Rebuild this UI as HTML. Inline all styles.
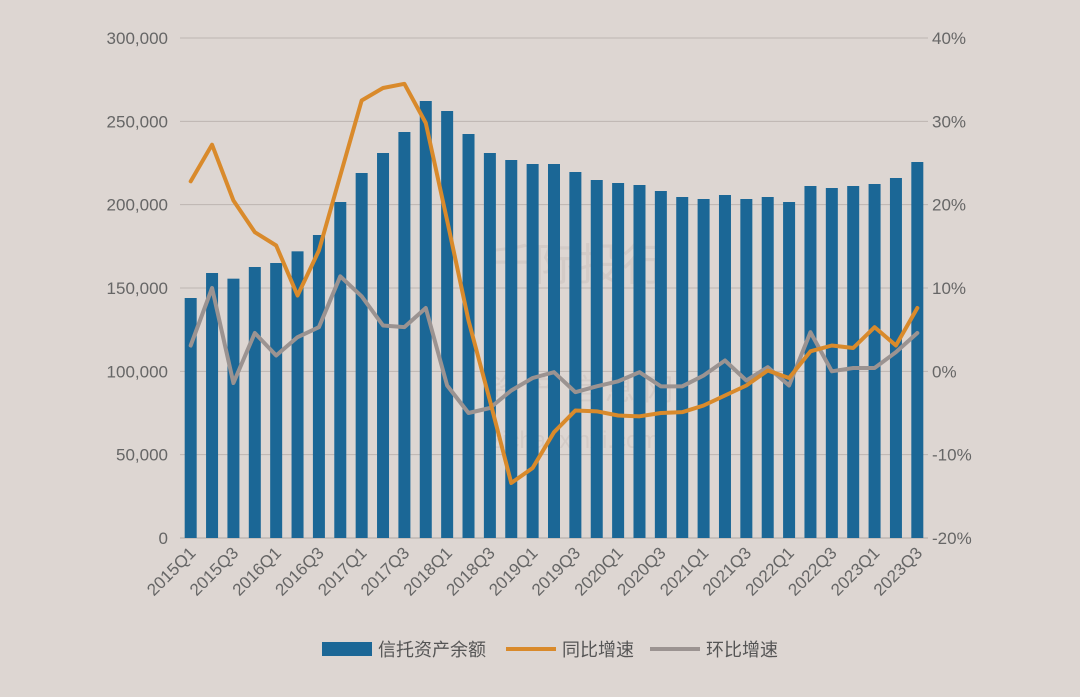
<!DOCTYPE html>
<html><head><meta charset="utf-8"><style>
body{margin:0;background:#ddd6d2;}
svg{display:block;font-family:"Liberation Sans","Noto Sans CJK SC",sans-serif;}
</style></head><body>
<svg id="chart" width="1080" height="697" viewBox="0 0 1080 697">
<rect width="1080" height="697" fill="#ddd6d2"/>
<text x="490" y="280" font-size="44" fill="#d3cbc7">千际投行</text>
<text x="490" y="400" font-size="30" fill="#d3cbc7">资 产 信 息 网</text>
<text x="490" y="448" font-size="24" fill="#d3cbc7">zichanxinxi.com</text>
<g id="grid"></g><g id="bars"></g><g id="lines"></g><g id="axes"></g>
<g>
<rect x="322" y="642" width="50" height="14" fill="#1b6796"/>
<text x="378" y="656" font-size="18" fill="#555">信托资产余额</text>
<line x1="506" y1="649" x2="556" y2="649" stroke="#d98a2b" stroke-width="4"/>
<text x="562" y="656" font-size="18" fill="#555">同比增速</text>
<line x1="650" y1="649" x2="700" y2="649" stroke="#9b9391" stroke-width="4"/>
<text x="706" y="656" font-size="18" fill="#555">环比增速</text>
</g>
</svg>
<script>
const categories=[];for(let y=2015;y<=2023;y++)for(let q=1;q<=4;q++){if(y===2023&&q===4)break;categories.push(y+'Q'+q);}
const balance=[144000,159000,155600,162600,165000,172000,181800,201600,219000,231000,243600,262200,256200,242400,231000,226800,224400,224400,219600,214800,213000,211800,208200,204600,203400,205800,203400,204600,201600,211200,210000,211200,212400,216000,225600];
const yoy=[22.8,27.2,20.5,16.7,15.1,9.1,14.5,23.5,32.5,34,34.5,29.8,18.1,6.1,-3.5,-13.4,-11.6,-7.3,-4.7,-4.8,-5.3,-5.4,-5,-4.9,-4.1,-2.9,-1.7,0.1,-0.8,2.4,3.1,2.8,5.3,3.1,7.6];
const qoq=[3.1,10,-1.4,4.6,1.9,4.1,5.3,11.4,9,5.5,5.3,7.6,-1.7,-5,-4.4,-2.3,-0.8,-0.1,-2.5,-1.8,-1.2,-0.1,-1.8,-1.8,-0.5,1.3,-1.1,0.5,-1.7,4.7,0,0.4,0.4,2.3,4.6];
const leftTicks=[0,50000,100000,150000,200000,250000,300000];
const rightTicks=[-20,-10,0,10,20,30,40];
const NS='http://www.w3.org/2000/svg';
const X0=180,X1=928,Y0=538,Y1=38;
const step=(X1-X0)/categories.length;
const xc=i=>X0+step*(i+0.5);
const yl=v=>Y0-(v/300000)*(Y0-Y1);
const yr=v=>Y0-((v+20)/60)*(Y0-Y1);
function mk(tag,attrs,parent){const e=document.createElementNS(NS,tag);for(const k in attrs)e.setAttribute(k,attrs[k]);document.getElementById(parent).appendChild(e);return e;}
leftTicks.forEach((t,i)=>{
 const g=mk('line',{x1:X0,x2:X1,y1:yl(t),y2:yl(t),stroke:t===0?'#b0a8a4':'#bdb5b1','stroke-width':1},'grid');
 
 
 const l=mk('text',{x:168,y:yl(t)+6,'text-anchor':'end','font-size':17,fill:'#666'},'axes');
 l.textContent=t.toLocaleString('en-US');
 
 
});
rightTicks.forEach(t=>{
 const l=mk('text',{x:932,y:yr(t)+6,'font-size':17,fill:'#666'},'axes');
 l.textContent=t+'%';
 
 
});
balance.forEach((v,i)=>{
 const b=mk('rect',{x:xc(i)-6,y:yl(v),width:12,height:Y0-yl(v),fill:'#1b6796'},'bars');
 
 
});
categories.forEach((c,i)=>{
 if(i%2)return;
 const x=xc(i)+6,y=Y0+16;
 const l=mk('text',{x:x,y:y,'text-anchor':'end','font-size':17,fill:'#666',transform:`rotate(-45 ${x} ${y})`},'axes');
 l.textContent=c;
 
 
});
function line(arr,color,name){
 const p=mk('polyline',{points:arr.map((v,i)=>xc(i)+','+yr(v)).join(' '),fill:'none',stroke:color,'stroke-width':4,'stroke-linejoin':'round','stroke-linecap':'round'},'lines');
 
 
}
line(qoq,'#9b9391','qoq-line');
line(yoy,'#d98a2b','yoy-line');
</script>
</body></html>
